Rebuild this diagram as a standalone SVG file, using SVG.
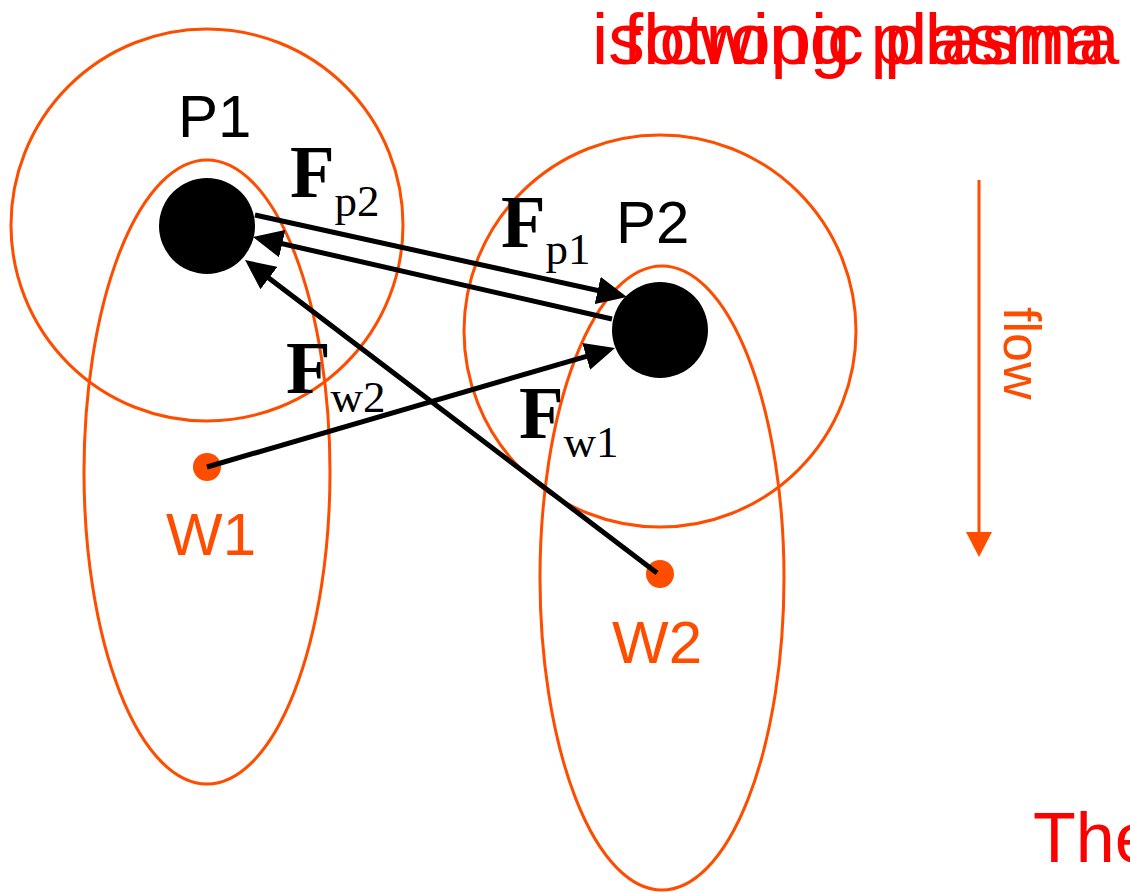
<svg xmlns="http://www.w3.org/2000/svg" width="1130" height="893" viewBox="0 0 1130 893">
  <style>
    .ring { fill: none; stroke: #FF4D00; stroke-width: 3; }
    .body { fill: #000; }
    .wake { fill: #FF4D00; }
    .lbl { font-family: "Liberation Sans", Arial, sans-serif; font-size: 60px; }
    .blk { fill: #000; }
    .org { fill: #FF4D00; }
    .force { fill: none; stroke: #000; stroke-width: 5; }
    .F { font-family: "Liberation Serif", "Times New Roman", serif; font-weight: bold; font-size: 73px; fill: #000; }
    .sub { font-family: "Liberation Serif", "Times New Roman", serif; font-weight: normal; font-size: 45px; fill: #000; }
    .title { font-family: "Liberation Sans", Arial, sans-serif; font-size: 73px; fill: #FF0000; }
  </style>
  <defs>
    <marker id="head" markerUnits="userSpaceOnUse" markerWidth="32" markerHeight="28" refX="20" refY="14" orient="auto">
      <path d="M0,0 L30,14 L0,28 Z" fill="#000"/>
    </marker>
  </defs>

  <rect width="1130" height="893" fill="#fff"/>

  <!-- overlapping titles -->
  <text class="title" x="592" y="64">isotropic plasma</text>
  <text class="title" x="623" y="64">flowing plasma</text>

  <!-- particle 1 with its Debye sphere and wake region -->
  <g id="P1">
    <circle class="ring" cx="207" cy="225" r="196"/>
    <ellipse class="ring" cx="207" cy="472" rx="123" ry="312"/>
    <circle class="body" cx="207" cy="226" r="48"/>
    <text class="lbl blk" x="178" y="137">P1</text>
  </g>
  <g id="W1">
    <circle class="wake" cx="207" cy="467" r="14"/>
    <text class="lbl org" x="166" y="555">W1</text>
  </g>

  <!-- particle 2 with its Debye sphere and wake region -->
  <g id="P2">
    <circle class="ring" cx="660" cy="331" r="196"/>
    <ellipse class="ring" cx="662" cy="578" rx="122" ry="312"/>
    <circle class="body" cx="660" cy="330" r="48"/>
    <text class="lbl blk" x="616" y="243">P2</text>
  </g>
  <g id="W2">
    <circle class="wake" cx="660" cy="574" r="14"/>
    <text class="lbl org" x="612" y="663">W2</text>
  </g>

  <!-- forces -->
  <g id="connectors">
    <line class="force" x1="255" y1="215" x2="617.2" y2="294.8" marker-end="url(#head)"/>
    <line class="force" x1="612" y1="319" x2="262.7" y2="239.2" marker-end="url(#head)"/>
    <line class="force" x1="657" y1="573" x2="253" y2="266" marker-end="url(#head)"/>
    <line class="force" x1="207" y1="467" x2="605.4" y2="350.8" marker-end="url(#head)"/>
  </g>

  <g id="labels">
    <text class="F" x="290" y="197">F<tspan class="sub" dy="19">p2</tspan></text>
    <text class="F" x="501" y="247">F<tspan class="sub" dy="17">p1</tspan></text>
    <text class="F" x="286" y="393">F<tspan class="sub" dy="19">w2</tspan></text>
    <text class="F" x="519" y="438">F<tspan class="sub" dy="19">w1</tspan></text>
  </g>

  <!-- flow direction -->
  <g id="flow">
    <line x1="979" y1="180" x2="979" y2="536" stroke="#FF4D00" stroke-width="3"/>
    <polygon points="966,532 992,532 979,557" fill="#FF4D00"/>
    <text class="org" transform="translate(1004,307) rotate(90)" style="font-family:'Liberation Sans', Arial, sans-serif; font-size:52px">flow</text>
  </g>

  <text class="title" x="1033" y="862" style="font-size:70px">The</text>
</svg>
